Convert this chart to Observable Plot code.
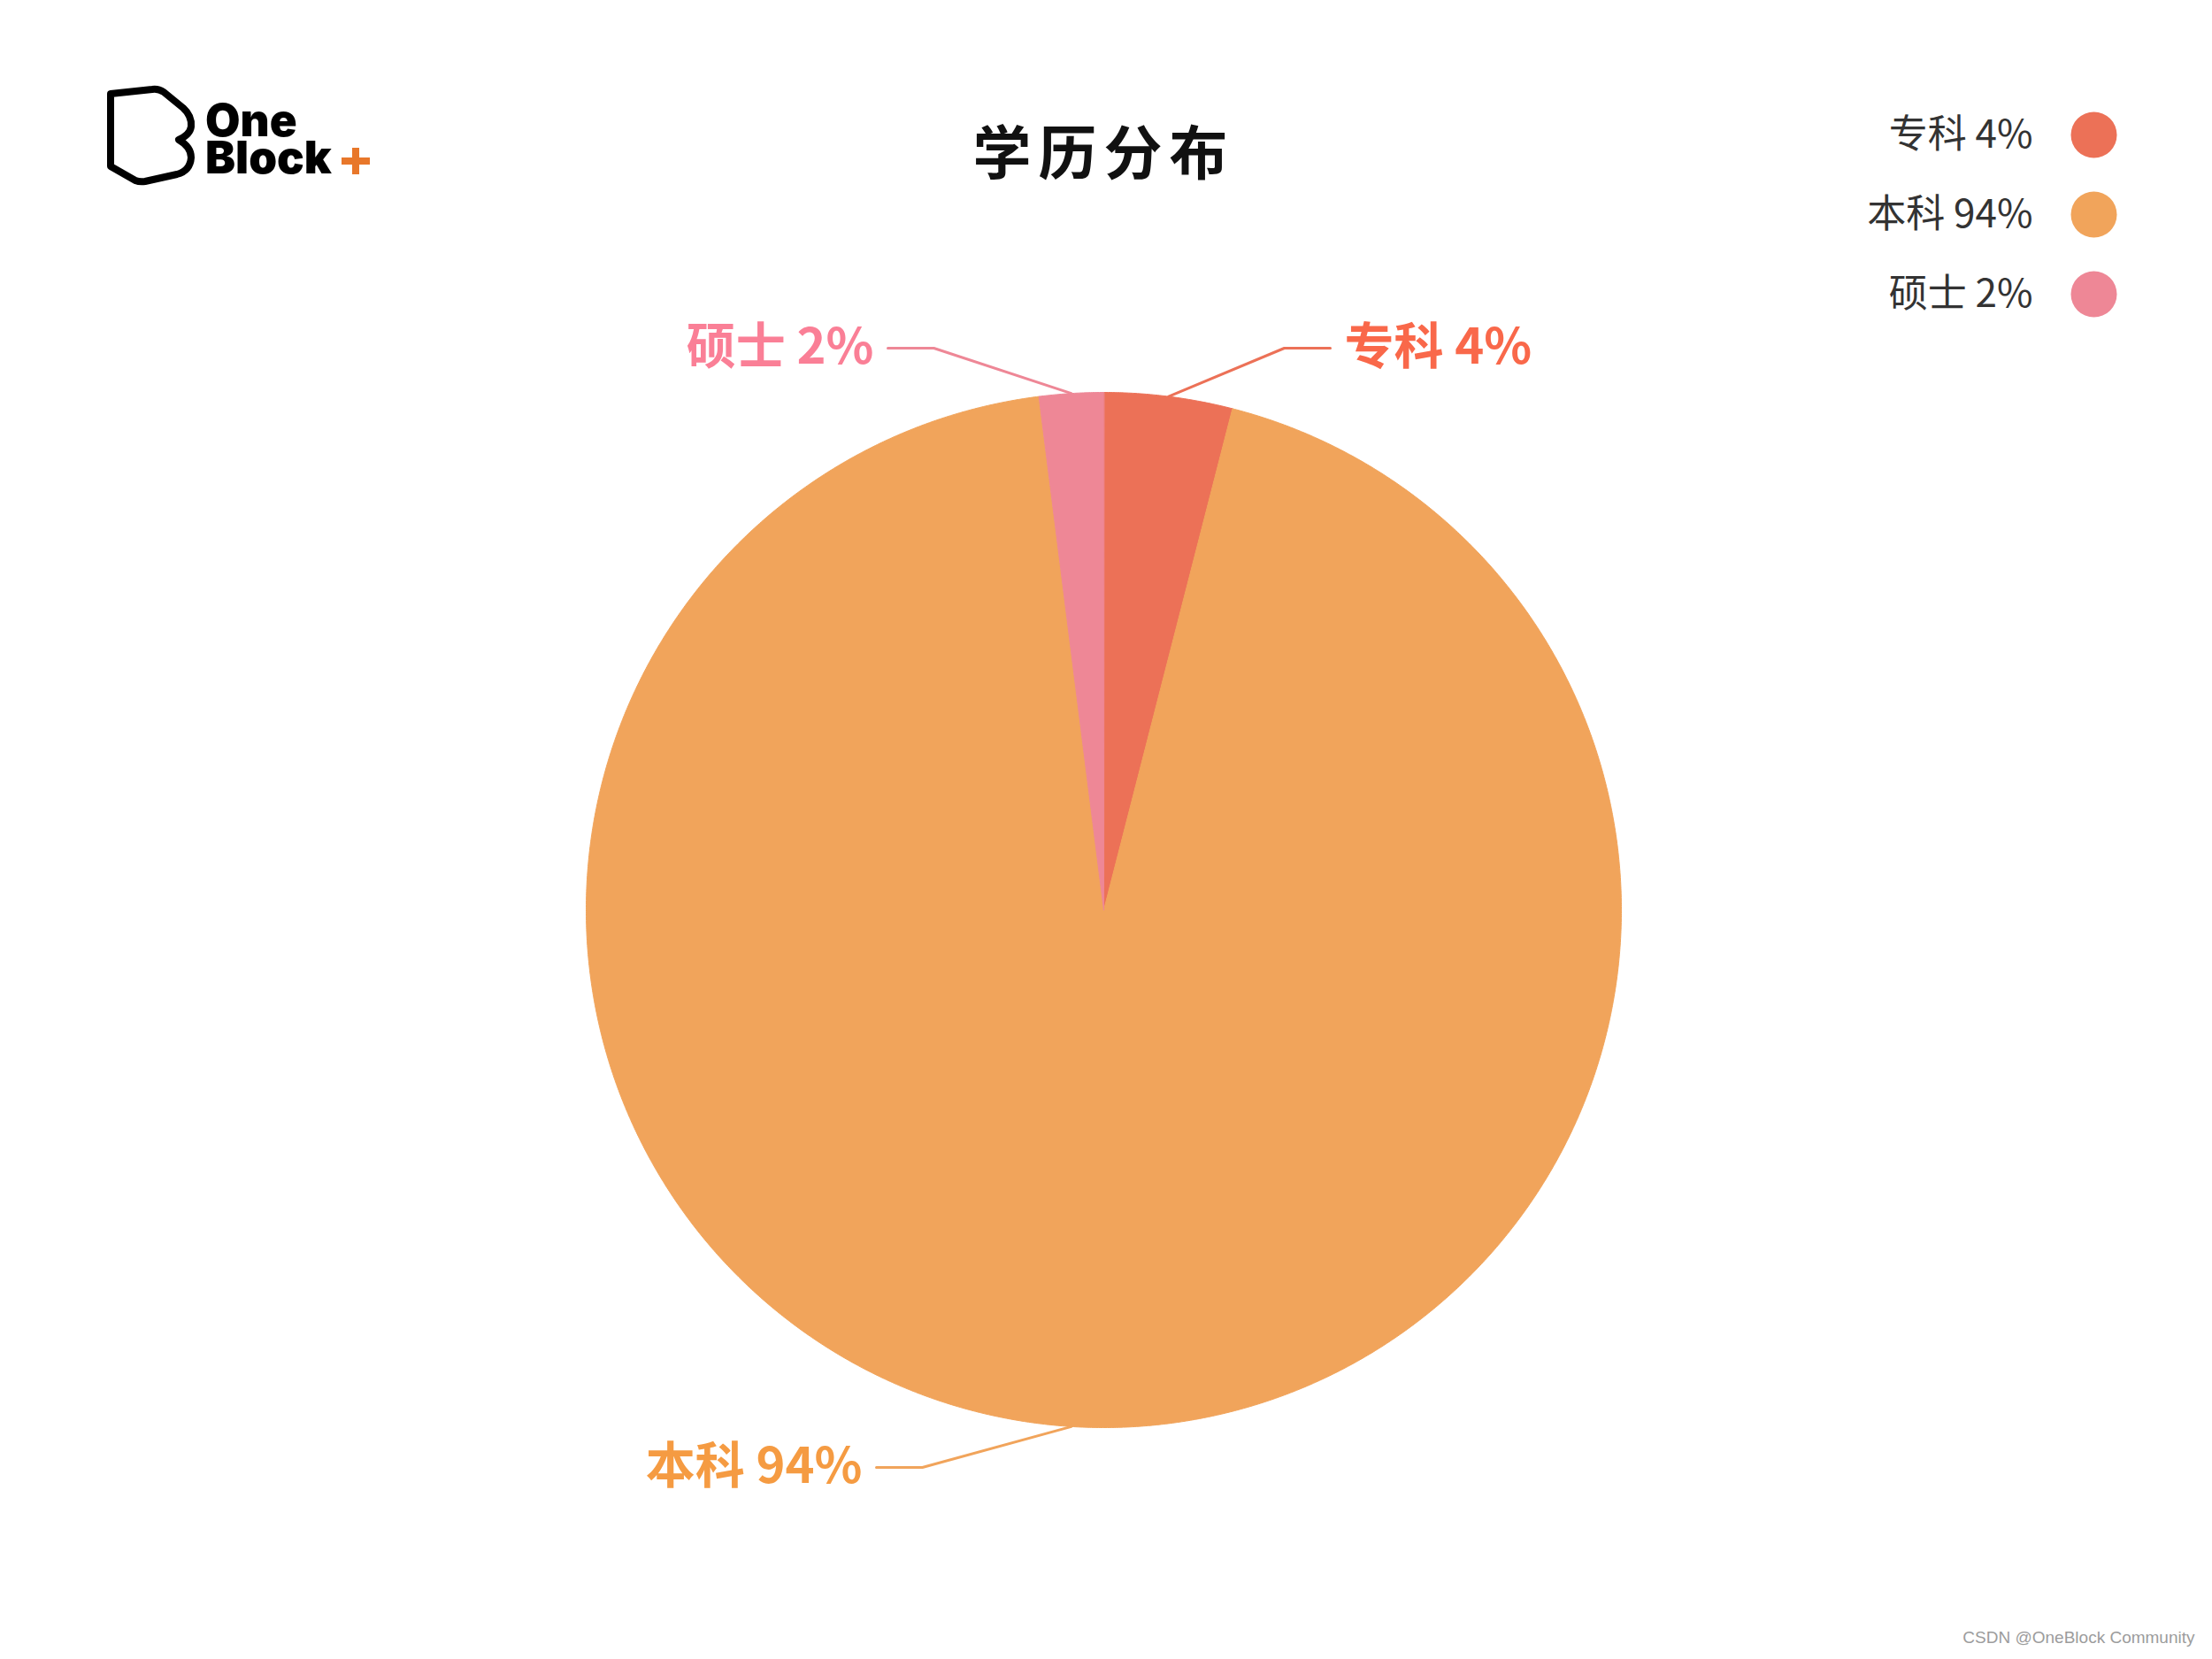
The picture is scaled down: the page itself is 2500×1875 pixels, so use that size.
<!DOCTYPE html>
<html><head><meta charset="utf-8">
<script src="https://cdn.jsdelivr.net/npm/d3@7"></script>
<script src="https://cdn.jsdelivr.net/npm/@observablehq/plot@0.6"></script>
<style>
body{margin:0;background:#fff}
#wrap{position:relative;width:2500px;height:1875px;overflow:hidden}
#logo{position:absolute;left:0;top:0}
</style>
</head><body><div id="wrap"></div>
<script>
// ---- data ----
const categories = ["专科", "本科", "硕士"];
const shares = [4, 94, 2];
const titleText = "学历分布";
const watermarkText = "CSDN @OneBlock Community";

// ---- styles ----
const sliceColors = ["#EC7157", "#F1A45B", "#EE8796"];
const labelColors = ["#F9684A", "#F59B42", "#FA7F96"];
const CJK = "'Noto Sans CJK SC', 'Noto Sans', sans-serif";

// ---- layout (pixel frame) ----
const W = 2500, H = 1875;
const cx = 1247, cy = 1028, R = 585;
// leader elbow offsets from the pie centre and label side
const leaderLayout = [
  {side: 1, dx: 204, dy: -635},
  {side: -1, dx: -205, dy: 630},
  {side: -1, dx: -192, dy: -635}
];
const hLen = 52, gap = 16;

const total = d3.sum(shares);
let acc = 0;
const slices = categories.map((c, i) => {
  const a0 = acc / total * 2 * Math.PI;
  acc += shares[i];
  const a1 = acc / total * 2 * Math.PI;
  return {cat: c, a0, a1, mid: (a0 + a1) / 2, i};
});
const pt = (a, r) => ({x: cx + r * Math.sin(a), y: cy - r * Math.cos(a)});

const slicePts = slices.flatMap(s => {
  const pts = [{cat: s.cat, ...pt(0, 0)}];
  const n = Math.max(4, Math.ceil((s.a1 - s.a0) / (Math.PI / 720)));
  for (let k = 0; k <= n; k++) pts.push({cat: s.cat, ...pt(s.a0 + (s.a1 - s.a0) * k / n, R)});
  return pts;
});

const leaderPts = [], labelData = [];
slices.forEach((s, i) => {
  const L = leaderLayout[i];
  const p0 = pt(s.mid, R);
  const ex = cx + L.dx, ey = cy + L.dy;
  const endX = ex + L.side * hLen;
  leaderPts.push({cat: s.cat, ...p0}, {cat: s.cat, x: ex, y: ey}, {cat: s.cat, x: endX, y: ey});
  labelData.push({cat: s.cat, x: endX + L.side * gap, y: ey, side: L.side, text: `${s.cat} ${shares[i]}%`, i});
});

const legendData = categories.map((c, i) => ({cat: c, text: `${c} ${shares[i]}%`, row: i}));
const legendX = 2366, legendY0 = 152, legendStep = 90;

const chart = Plot.plot({
  width: W, height: H, margin: 0,
  x: {domain: [0, W], axis: null},
  y: {domain: [H, 0], axis: null},
  color: {domain: categories, range: sliceColors},
  style: {background: "white", fontFamily: CJK},
  marks: [
    Plot.line(slicePts, {x: "x", y: "y", z: "cat", fill: "cat", stroke: "cat", strokeWidth: 1, curve: "linear-closed"}),
    Plot.line(leaderPts, {x: "x", y: "y", z: "cat", stroke: "cat", strokeWidth: 3}),
    ...labelData.map(d => Plot.text([d], {
      x: "x", y: "y", text: "text", textAnchor: d.side > 0 ? "start" : "end",
      lineAnchor: "middle", fill: labelColors[d.i], fontSize: 56, fontWeight: "bold", fontFamily: CJK
    })),
    Plot.text([titleText], {x: () => cx, y: () => 175, text: d => d, fontSize: 66, fontWeight: "bold",
      fill: "#111", lineAnchor: "middle", fontFamily: CJK, className: "ttl"}),
    Plot.dot(legendData, {x: () => legendX, y: d => legendY0 + d.row * legendStep, r: 26, fill: "cat", stroke: null}),
    Plot.text(legendData, {x: () => legendX - 69, y: d => legendY0 + d.row * legendStep, text: "text",
      textAnchor: "end", lineAnchor: "middle", fontSize: 44, fill: "#333", fontFamily: CJK}),
    Plot.text([watermarkText], {x: () => 2480, y: () => 1850, text: d => d, textAnchor: "end", lineAnchor: "middle",
      fontSize: 19, fill: "#9c9c9c", fontFamily: "'Liberation Sans', Arial, sans-serif"})
  ]
});
d3.select(chart).selectAll(".ttl text").attr("letter-spacing", 8);
document.getElementById("wrap").appendChild(chart);

// logo decoration
const logo = `
<svg id="logo" width="500" height="260" xmlns="http://www.w3.org/2000/svg">
  <path d="M125,106 L172,101 Q179,100 185,104 L207,122 Q217,131 216,143 Q215,152 202,158 Q216,166 216,178 Q215,193 200,197 L164,205 Q158,206 153,204 L125,188 Z"
    fill="none" stroke="#000" stroke-width="8" stroke-linejoin="round"/>
  <text font-family="Inter, 'DejaVu Sans', sans-serif" font-weight="900" font-size="51" fill="#000"><tspan x="232" y="154">One</tspan><tspan x="232" y="196">Block</tspan></text>
  <path d="M386,182 H418 M402,167 V197" stroke="#E8772A" stroke-width="8"/>
</svg>`;
document.getElementById("wrap").insertAdjacentHTML("beforeend", logo);
</script>
</body></html>
